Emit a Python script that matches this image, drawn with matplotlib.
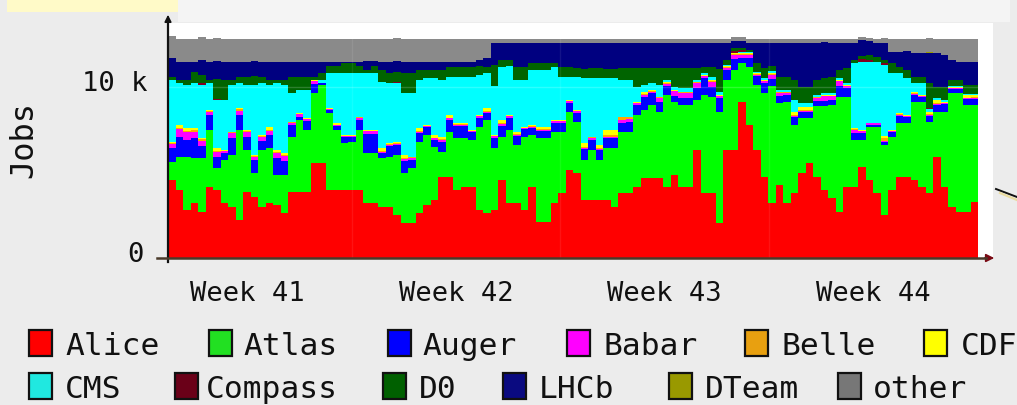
import numpy as np
import matplotlib
matplotlib.use("Agg")
import matplotlib.pyplot as plt
from matplotlib.patches import Rectangle, FancyArrowPatch
from matplotlib.lines import Line2D
import matplotlib.transforms as mtransforms

# ---------------- data (thousands of jobs, 6-hour steps) ----------------
alice = [4.56,3.98,2.81,3.20,2.71,4.17,3.98,3.20,3.00,2.22,
         3.88,3.59,3.00,3.20,3.10,2.61,3.88,3.88,3.88,5.54,
         5.54,3.98,3.98,3.98,3.98,3.98,3.20,3.20,3.00,3.00,
         2.52,2.03,2.03,2.61,3.10,3.39,4.76,4.76,3.98,4.17,
         4.17,2.81,2.61,2.81,4.56,3.20,3.20,2.81,4.17,2.13,
         2.13,3.20,3.78,5.15,4.95,3.39,3.39,3.39,3.39,3.00,
         3.78,3.78,4.17,4.66,4.66,4.66,4.17,4.86,4.17,4.17,
         6.32,3.78,3.78,2.03,6.32,6.32,9.15,7.78,6.32,4.76,
         3.20,4.27,3.20,3.78,4.95,5.54,4.76,3.98,3.49,2.71,
         4.17,4.17,5.34,4.56,3.78,2.52,3.98,4.76,4.76,4.56,
         4.17,3.78,5.93,4.17,3.00,2.71,2.71,3.30]
atlas = [1.07,1.95,3.12,2.63,3.12,3.32,1.27,2.54,3.02,5.27,
         2.44,1.37,3.32,3.22,1.76,2.24,3.22,4.19,3.61,4.10,
         4.58,4.49,3.51,2.73,2.83,3.51,2.93,2.93,2.83,2.93,
         3.51,2.93,3.22,4.19,4.10,3.12,1.46,2.63,3.02,2.83,
         2.73,4.88,5.46,3.61,2.54,4.29,3.41,4.29,3.02,4.88,
         4.88,4.19,3.61,3.41,3.02,2.34,2.93,2.34,3.02,3.41,
         3.61,3.61,4.19,4.00,4.29,3.90,5.36,4.29,4.78,4.78,
         2.93,5.75,5.66,6.53,4.10,4.68,2.24,3.41,3.80,4.88,
         6.83,4.78,5.95,4.00,3.22,2.63,4.10,4.88,5.46,6.73,
         5.27,2.73,1.56,3.12,3.90,4.10,3.12,3.12,3.12,4.58,
         4.97,4.19,2.63,4.39,6.63,6.92,6.24,5.66]
auger = [0.79,1.15,0.96,1.16,0.72,0.87,0.67,0.40,0.97,0.87,
         0.77,0.77,0.53,0.77,0.96,0.82,0.65,0.18,0.52,0.55,
         0.10,0.19,0.21,0.36,0.26,0.60,1.14,1.14,0.33,0.60,
         0.55,0.72,0.50,0.53,0.45,0.38,0.58,0.67,0.70,0.70,
         0.45,0.50,0.43,0.60,0.62,0.70,0.53,0.45,0.40,0.43,
         0.43,0.50,0.50,0.50,0.50,0.67,0.60,0.58,0.62,0.62,
         0.53,0.58,0.58,0.77,0.68,0.58,0.55,0.35,0.43,0.43,
         0.67,0.99,0.57,0.79,0.60,0.64,0.30,0.50,0.50,0.60,
         0.45,0.40,0.40,0.48,0.38,0.38,0.30,0.30,0.30,0.59,
         0.50,0.40,0.40,0.09,0.09,0.19,0.26,0.45,0.36,0.38,
         0.26,0.33,0.38,0.45,0.26,0.26,0.33,0.33]
babar = [0.25,0.45,0.50,0.40,0.30,0.20,0.30,0.10,0.30,0.25,
         0.25,0.20,0.25,0.25,0.30,0.30,0.15,0.15,0.10,0.15,
         0.00,0.05,0.05,0.05,0.05,0.10,0.15,0.15,0.05,0.10,
         0.10,0.10,0.10,0.05,0.05,0.10,0.10,0.10,0.10,0.10,
         0.05,0.10,0.05,0.10,0.10,0.10,0.05,0.05,0.10,0.05,
         0.05,0.10,0.10,0.10,0.10,0.05,0.10,0.05,0.05,0.05,
         0.15,0.15,0.10,0.10,0.10,0.20,0.10,0.25,0.25,0.25,
         0.30,0.10,0.30,0.10,0.10,0.25,0.20,0.20,0.10,0.10,
         0.25,0.20,0.10,0.05,0.05,0.05,0.20,0.30,0.20,0.30,
         0.10,0.20,0.10,0.10,0.10,0.05,0.05,0.05,0.05,0.05,
         0.05,0.05,0.05,0.05,0.05,0.05,0.05,0.05]
belle = [0.08,0.05,0.05,0.10,0.10,0.05,0.05,0.03,0.05,0.10,
         0.10,0.05,0.05,0.05,0.05,0.05,0.03,0.03,0.03,0.03,
         0.00,0.00,0.03,0.03,0.03,0.03,0.03,0.03,0.05,0.03,
         0.03,0.05,0.03,0.05,0.03,0.05,0.05,0.05,0.03,0.03,
         0.03,0.03,0.05,0.03,0.05,0.03,0.05,0.03,0.03,0.05,
         0.05,0.03,0.03,0.03,0.03,0.05,0.03,0.05,0.10,0.10,
         0.15,0.10,0.05,0.05,0.05,0.05,0.03,0.03,0.05,0.05,
         0.05,0.03,0.05,0.03,0.03,0.03,0.03,0.03,0.03,0.03,
         0.03,0.03,0.03,0.05,0.05,0.05,0.03,0.03,0.03,0.03,
         0.03,0.03,0.03,0.00,0.00,0.15,0.03,0.03,0.03,0.10,
         0.03,0.05,0.05,0.03,0.03,0.03,0.05,0.05]
cdf = [0.05,0.20,0.15,0.10,0.05,0.05,0.15,0.05,0.05,0.05,
       0.05,0.05,0.05,0.20,0.15,0.10,0.05,0.03,0.03,0.05,
       0.00,0.05,0.10,0.05,0.05,0.05,0.05,0.05,0.15,0.05,
       0.10,0.20,0.05,0.15,0.05,0.15,0.15,0.15,0.05,0.05,
       0.05,0.05,0.15,0.05,0.20,0.05,0.15,0.05,0.05,0.15,
       0.15,0.05,0.05,0.05,0.05,0.20,0.05,0.20,0.30,0.30,
       0.05,0.05,0.05,0.15,0.05,0.05,0.10,0.05,0.05,0.05,
       0.05,0.05,0.05,0.05,0.05,0.05,0.05,0.05,0.05,0.05,
       0.05,0.05,0.05,0.20,0.20,0.20,0.05,0.05,0.05,0.05,
       0.05,0.05,0.05,0.00,0.00,0.10,0.05,0.05,0.05,0.05,
       0.05,0.15,0.20,0.05,0.05,0.05,0.15,0.15]
cms = [3.61,2.44,2.54,2.63,3.12,1.56,2.83,2.93,2.73,1.46,
       2.63,4.10,3.02,2.44,3.90,4.00,1.66,1.37,1.66,0.00,
       0.19,2.05,2.93,3.61,3.61,2.54,3.32,3.32,3.90,3.51,
       3.41,3.61,3.71,2.83,2.73,3.32,3.32,2.24,2.73,2.73,
       3.12,2.34,2.05,2.83,3.12,2.83,3.02,2.73,3.22,3.32,
       3.32,3.12,2.54,1.37,1.95,3.80,3.41,3.90,3.02,3.02,
       2.15,2.15,0.88,0.39,0.39,0.68,0.10,0.19,0.19,0.19,
       0.10,0.10,0.19,0.19,0.10,0.04,0.10,0.10,0.10,0.10,
       0.10,0.10,0.10,0.68,0.19,0.19,0.10,0.10,0.10,0.10,
       0.10,3.80,4.00,3.61,3.61,4.19,3.32,2.34,2.15,0.49,
       0.68,0.19,0.10,0.10,0.04,0.04,0.04,0.04]
compass = [0.00,0.00,0.00,0.00,0.10,0.00,0.05,0.00,0.00,0.00,
           0.00,0.00,0.00,0.00,0.00,0.00,0.00,0.00,0.00,0.00,
           0.00,0.00,0.00,0.00,0.00,0.00,0.00,0.00,0.00,0.00,
           0.05,0.00,0.00,0.00,0.00,0.00,0.00,0.00,0.00,0.00,
           0.00,0.00,0.00,0.00,0.00,0.00,0.00,0.00,0.00,0.00,
           0.00,0.00,0.00,0.00,0.00,0.00,0.00,0.00,0.00,0.00,
           0.00,0.00,0.00,0.00,0.00,0.00,0.00,0.00,0.00,0.00,
           0.00,0.00,0.00,0.00,0.00,0.10,0.10,0.00,0.00,0.00,
           0.00,0.00,0.00,0.00,0.00,0.00,0.00,0.00,0.00,0.00,
           0.00,0.00,0.15,0.10,0.00,0.10,0.00,0.00,0.00,0.00,
           0.00,0.05,0.00,0.00,0.00,0.00,0.00,0.00]
d0 = [0.20,0.19,0.29,0.68,0.49,0.19,1.17,1.17,0.29,0.39,
      0.49,0.49,0.39,0.29,0.19,0.29,0.97,0.78,0.78,0.19,
      0.39,0.39,0.39,0.58,0.58,0.39,0.19,0.39,0.68,0.58,
      0.58,1.17,1.17,0.58,0.49,0.49,0.58,0.58,0.58,0.58,
      0.58,0.49,0.39,1.27,0.39,0.39,0.78,0.78,0.39,0.39,
      0.39,0.19,0.58,0.58,0.49,0.58,0.58,0.58,0.58,0.58,
      0.68,0.68,1.07,0.97,0.88,0.97,0.68,1.07,1.17,1.17,
      0.68,0.39,0.58,1.36,0.29,0.16,0.10,0.10,0.49,0.58,
      0.29,0.78,0.78,1.17,0.97,0.97,0.88,0.88,0.97,0.49,
      0.88,0.19,0.19,0.29,0.29,0.19,0.58,0.39,0.49,0.39,
      0.39,1.46,0.68,0.78,0.35,0.35,0.55,0.55]
lhcb = [1.07,1.07,1.07,0.58,0.88,1.07,1.07,1.07,1.07,0.88,
        0.88,0.88,0.88,1.07,1.07,1.07,0.88,0.88,0.88,0.88,
        0.68,0.29,0.29,0.10,0.10,0.29,0.49,0.29,0.49,0.68,
        0.68,0.68,0.68,0.49,0.49,0.49,0.49,0.29,0.29,0.29,
        0.29,0.39,0.49,1.27,0.97,0.97,1.36,1.36,1.17,1.17,
        1.17,1.17,1.36,1.36,1.50,1.50,1.50,1.50,1.50,1.50,
        1.50,1.50,1.50,1.50,1.50,1.50,1.50,1.50,1.50,1.50,
        1.50,1.40,1.40,1.50,1.01,0.43,0.43,0.43,1.21,1.50,
        1.40,1.99,1.99,2.18,2.57,2.57,2.18,2.09,1.99,1.60,
        1.50,1.01,0.92,0.82,0.82,0.97,0.68,0.88,1.07,1.36,
        1.36,1.75,1.95,1.85,1.17,1.07,1.36,1.36]
dteam = [0.00,0.00,0.00,0.00,0.00,0.00,0.00,0.00,0.00,0.00,
         0.00,0.00,0.00,0.00,0.00,0.00,0.00,0.00,0.00,0.00,
         0.00,0.00,0.00,0.00,0.00,0.00,0.00,0.00,0.00,0.00,
         0.00,0.00,0.00,0.00,0.00,0.00,0.00,0.00,0.00,0.00,
         0.00,0.00,0.00,0.00,0.00,0.00,0.00,0.00,0.00,0.00,
         0.00,0.00,0.00,0.00,0.00,0.00,0.00,0.00,0.00,0.00,
         0.00,0.00,0.00,0.00,0.00,0.00,0.00,0.00,0.00,0.00,
         0.00,0.00,0.00,0.00,0.00,0.00,0.00,0.00,0.00,0.00,
         0.00,0.00,0.00,0.00,0.00,0.00,0.00,0.00,0.00,0.00,
         0.00,0.00,0.00,0.00,0.00,0.00,0.00,0.00,0.00,0.00,
         0.05,0.05,0.00,0.00,0.00,0.00,0.00,0.00]
other = [1.31,1.31,1.31,1.31,1.31,1.31,1.31,1.31,1.31,1.31,
         1.31,1.31,1.31,1.31,1.31,1.31,1.31,1.31,1.31,1.31,
         1.31,1.31,1.31,1.31,1.31,1.31,1.31,1.31,1.31,1.31,
         1.31,1.31,1.31,1.31,1.31,1.31,1.31,1.31,1.31,1.31,
         1.31,1.21,1.11,0.23,0.23,0.23,0.23,0.23,0.23,0.23,
         0.23,0.23,0.23,0.23,0.20,0.20,0.20,0.20,0.20,0.20,
         0.20,0.20,0.20,0.20,0.20,0.20,0.20,0.20,0.20,0.20,
         0.20,0.20,0.20,0.20,0.20,0.20,0.20,0.20,0.20,0.20,
         0.20,0.20,0.20,0.20,0.20,0.20,0.20,0.20,0.20,0.20,
         0.20,0.20,0.20,0.20,0.20,0.33,0.72,0.72,0.72,0.82,
         0.82,0.82,0.82,0.92,1.21,1.31,1.31,1.31]

series_names = ["Alice", "Atlas", "Auger", "Babar", "Belle", "CDF",
                "CMS", "Compass", "D0", "LHCb", "DTeam", "other"]
series_values = [alice, atlas, auger, babar, belle, cdf,
                 cms, compass, d0, lhcb, dteam, other]
fill_colors = ["#ff0000", "#00ff00", "#0000ff", "#ff00ff", "#ffa500", "#ffff00",
               "#00ffff", "#800020", "#006400", "#000080", "#999900", "#8a8a8a"]
legend_colors = ["#ff0000", "#22e022", "#0000ff", "#ff00ff", "#e8a010", "#ffff00",
                 "#20e8e0", "#6a0018", "#006000", "#0a0a80", "#999900", "#777777"]

week_labels = ["Week 41", "Week 42", "Week 43", "Week 44"]
week_bounds = [-3.3, 24.5, 52.3, 80.1, 107.9]
ytick_vals = [0, 10]
ytick_labels = ["0", "10 k"]

# ---------------- figure ----------------
W, H = 1017, 405
def fx(px):
    return px / W
def fy(py):
    return 1 - py / H

MONO = "DejaVu Sans Mono"
fig = plt.figure(figsize=(W / 100, H / 100), dpi=100, facecolor="#ececec")

# decoration at top
fig.add_artist(Rectangle((fx(178), fy(22)), fx(1010) - fx(178), 22 / H,
                         transform=fig.transFigure, facecolor="#f4f4f4", edgecolor="none"))
fig.add_artist(Rectangle((fx(7), fy(12)), fx(178) - fx(7), 12 / H,
                         transform=fig.transFigure, facecolor="#fffac8", edgecolor="none"))

ax = fig.add_axes([fx(168), fy(258), (993 - 168) / W, (258 - 23) / H])
ax.set_facecolor("white")
ax.set_xlim(0, (993 - 168) / 7.5)
ax.set_ylim(0, (258 - 23) / 17.1)
for s in ax.spines.values():
    s.set_visible(False)
ax.set_xticks([])
ax.set_yticks([])

N = len(alice)
x = np.arange(N + 1)
base = np.zeros(N)
for vals, col in zip(series_values, fill_colors):
    v = np.asarray(vals, dtype=float)
    top = base + v
    ax.fill_between(x, np.append(base, base[-1]), np.append(top, top[-1]),
                    step="post", facecolor=col, edgecolor="none", linewidth=0)
    base = top

# very faint grid
ax.axhline(10, color="white", alpha=0.18, lw=1, zorder=5)
for b in week_bounds[1:-1]:
    ax.axvline(b, color="white", alpha=0.08, lw=1, zorder=5)

# axes lines with arrows
fig.add_artist(Line2D([fx(168), fx(168)], [fy(262), fy(20)], transform=fig.transFigure,
                      color="#111111", lw=1.6))
fig.add_artist(FancyArrowPatch((fx(168), fy(22)), (fx(168), fy(12)), transform=fig.transFigure,
                               arrowstyle="-|>", mutation_scale=10, color="#111111", lw=1.2))
fig.add_artist(Line2D([fx(157), fx(986)], [fy(258), fy(258)], transform=fig.transFigure,
                      color="#4a3a2a", lw=1.8))
fig.add_artist(FancyArrowPatch((fx(982), fy(258)), (fx(997), fy(258)), transform=fig.transFigure,
                               arrowstyle="-|>", mutation_scale=12, color="#7a0a14", lw=1.2))

# y tick labels
tr_y = mtransforms.blended_transform_factory(fig.transFigure, ax.transData)
for v, lab in zip(ytick_vals, ytick_labels):
    ax.text(fx(148) if v else fx(144), v + 0.18, lab, transform=tr_y,
            ha="right", va="center", fontsize=19.5, family=MONO, color="#111111")
fig.text(fx(24), fy(140), "Jobs", rotation=90, ha="center", va="center",
         fontsize=23, family=MONO, color="#111111")

# week labels centred between week boundaries
tr_x = mtransforms.blended_transform_factory(ax.transData, fig.transFigure)
for i, lab in enumerate(week_labels):
    c = 0.5 * (week_bounds[i] + week_bounds[i + 1])
    ax.text(c, fy(294), lab, transform=tr_x, ha="center", va="center",
            fontsize=19.5, family=MONO, color="#111111")

# legend
sq_x = [29, 209, 388, 567, 745, 924, 29, 175, 383, 503, 669, 838]
tx_x = [65, 243, 422, 604, 782, 961, 65, 206, 419, 539, 705, 873]
row_top = [330] * 6 + [373] * 6
row_base = [355] * 6 + [398] * 6
for name, col, sx, tx, rt, rb in zip(series_names, legend_colors, sq_x, tx_x, row_top, row_base):
    fig.add_artist(Rectangle((fx(sx), fy(rt + 26)), 23 / W, 26 / H, transform=fig.transFigure,
                             facecolor=col, edgecolor="#111111", lw=1.6))
    fig.text(fx(tx), fy(rb), name, ha="left", va="baseline", fontsize=22.5,
             family=MONO, color="#111111")

# pointer fragment on the right edge
fig.add_artist(Line2D([fx(996), fx(1017)], [fy(189), fy(197)], transform=fig.transFigure,
                      color="#111111", lw=1.4))
fig.add_artist(Line2D([fx(1000), fx(1017)], [fy(193), fy(200)], transform=fig.transFigure,
                      color="#eadca0", lw=1.6))

fig.savefig("out.png", dpi=100, facecolor=fig.get_facecolor())
